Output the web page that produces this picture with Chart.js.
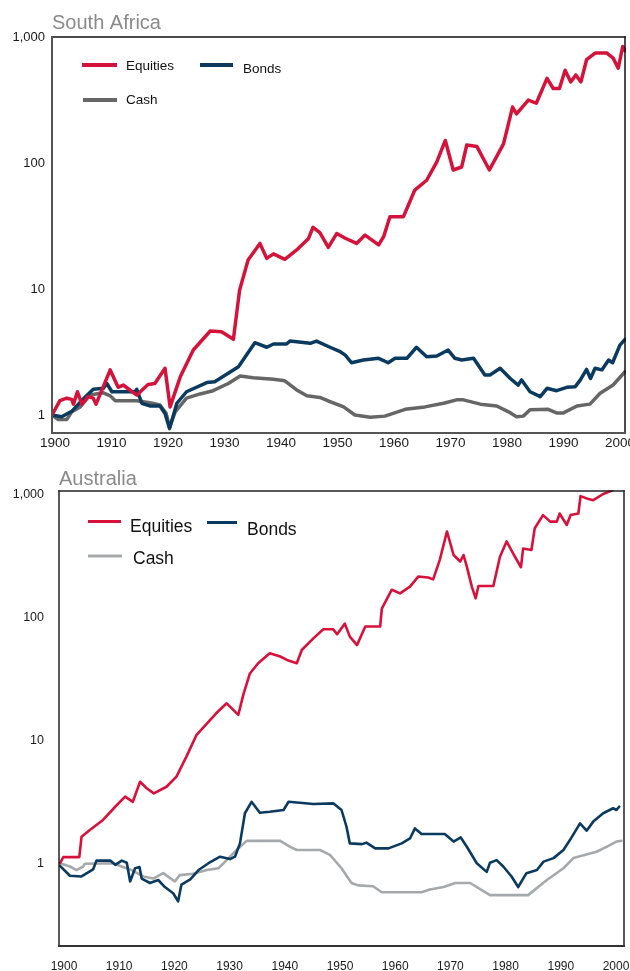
<!DOCTYPE html>
<html><head><meta charset="utf-8">
<script src="https://cdn.jsdelivr.net/npm/chart.js@4"></script>
<style>
html,body{margin:0;padding:0;background:#fff;}
#wrap{position:relative;width:630px;height:971px;overflow:hidden;background:#fff;}
.c{position:absolute;left:0;}
</style></head><body>
<div id="wrap">
<canvas id="sa" class="c" style="top:0" width="630" height="460"></canvas>
<canvas id="au" class="c" style="top:460px" width="630" height="511"></canvas>
</div>
<script>
// ---------- tick labels & series names ----------
const xTicks = [1900,1910,1920,1930,1940,1950,1960,1970,1980,1990,2000];
const yTicks = [1,10,100,1000];
const seriesNames = ['Equities','Bonds','Cash'];
const titles = ['South Africa','Australia'];

// ---------- South Africa ----------
const saEquitiesYears = [1900.0,1901.4,1902.6,1903.5,1903.8,1904.5,1905.3,1906.4,1907.3,1907.8,1910.3,1911.7,1912.6,1915.0,1917.0,1918.2,1920.0,1920.9,1922.7,1925.0,1928.0,1930.0,1932.1,1933.2,1934.7,1936.8,1938.0,1939.2,1941.2,1943.3,1945.4,1946.2,1947.4,1948.9,1950.4,1951.9,1953.9,1955.4,1957.8,1958.7,1959.8,1962.2,1964.2,1966.3,1968.1,1969.6,1971.0,1972.5,1973.4,1975.2,1977.4,1979.9,1981.5,1982.2,1984.3,1985.7,1987.6,1988.7,1989.8,1990.8,1991.8,1992.7,1993.6,1994.6,1996.1,1998.2,1999.3,2000.2,2001.0,2001.4];
const saEquitiesValues = [1.0,1.30,1.36,1.33,1.22,1.53,1.22,1.40,1.36,1.22,2.28,1.66,1.73,1.44,1.75,1.78,2.35,1.16,2.01,3.28,4.64,4.58,3.99,9.8,17.0,23.0,17.5,19.0,17.2,20.4,25.2,30.9,28.0,21.4,27.6,25.3,23.0,26.8,22.4,26.1,37.5,37.5,61,73,102,151,88,93,139,135,88,142,278,245,316,298,470,390,390,545,440,500,440,660,745,745,680,565,840,780];

const saBondsYears = [1900,1901.7,1903.5,1905.3,1907.3,1909.1,1909.7,1910.6,1914.7,1915.0,1915.9,1917.3,1919.1,1920.0,1920.8,1922.1,1923.8,1927.4,1928.8,1933.0,1935.9,1938.0,1939.2,1941.5,1942.1,1945.7,1946.8,1949.2,1951.0,1951.9,1953.0,1955.1,1957.8,1959.5,1960.7,1962.8,1964.5,1966.3,1968.1,1970.1,1971.3,1972.5,1974.6,1976.6,1977.5,1979.3,1981.1,1982.5,1983.1,1984.6,1986.4,1987.6,1989.3,1991.1,1992.6,1993.5,1994.6,1995.3,1996.1,1997.3,1998.5,1999.2,2000.5,2001.4];
const saBondsValues = [1.0,0.97,1.07,1.31,1.60,1.63,1.78,1.53,1.53,1.60,1.24,1.18,1.18,1.03,0.78,1.24,1.53,1.81,1.84,2.42,3.75,3.45,3.66,3.66,3.86,3.71,3.86,3.45,3.18,2.99,2.60,2.73,2.82,2.60,2.82,2.82,3.45,2.90,2.94,3.28,2.82,2.73,2.82,2.08,2.08,2.35,1.95,1.73,1.90,1.53,1.40,1.63,1.56,1.66,1.68,1.90,2.30,1.95,2.35,2.28,2.73,2.60,3.59,3.99];

const saCashYears = [1900,1901.1,1902.6,1903.5,1905.0,1906.7,1909.1,1910.3,1911.2,1915.0,1917.3,1919.1,1920.2,1920.8,1921.8,1923.8,1926.2,1928.5,1931.2,1933.3,1935.6,1939.2,1941.2,1943.3,1945.1,1947.4,1949.2,1951.6,1953.6,1956.3,1958.9,1962.5,1966.0,1969.3,1971.6,1972.8,1975.8,1978.7,1980.8,1982.2,1983.4,1984.6,1987.8,1989.3,1990.5,1992.9,1995.2,1997.0,1999.3,2001.4];
const saCashValues = [1.0,0.92,0.92,1.06,1.16,1.44,1.50,1.42,1.30,1.30,1.25,1.20,1.03,0.80,1.06,1.36,1.47,1.56,1.78,2.04,1.98,1.92,1.87,1.58,1.42,1.38,1.28,1.16,1.00,0.96,0.98,1.11,1.16,1.24,1.32,1.32,1.22,1.18,1.06,0.97,0.98,1.10,1.11,1.04,1.04,1.18,1.22,1.49,1.73,2.21];

// ---------- Australia ----------
const auEquitiesYears = [1900.0,1900.6,1903.5,1903.9,1905.4,1907.8,1910.0,1911.8,1913.2,1914.5,1915.7,1917.0,1919.3,1921.1,1922.9,1924.7,1928.3,1930.2,1932.3,1933.2,1934.4,1935.9,1938.0,1939.9,1941.1,1942.9,1943.8,1945.9,1947.7,1949.5,1950.2,1951.6,1952.5,1953.8,1955.3,1958.0,1958.3,1960.1,1961.6,1963.4,1964.9,1966.7,1967.6,1968.8,1970.1,1971.3,1972.5,1973.1,1973.7,1974.6,1975.3,1975.8,1978.5,1979.7,1980.9,1982.1,1983.5,1983.9,1985.4,1986.0,1987.5,1988.8,1990.0,1990.5,1991.8,1992.5,1993.9,1994.3,1995.4,1996.6,1998.4,1999.9,2001.0];
const auEquitiesValues = [1.0,1.12,1.12,1.64,1.86,2.25,2.88,3.48,3.16,4.60,4.07,3.70,4.19,5.06,7.37,11.0,16.6,20.0,16.1,23.4,35.0,42.4,51.1,48.1,45.1,42.4,54.3,67.5,80.0,80.0,73,89,69.8,59.5,84.3,84.3,118,168,157,178,215,211,204,294,500,322,285,322,259,178,143,180,180,312,415,331,256,364,354,532,680,602,602,700,565,680,700,970,930,900,1010,1070,1200];

const auBondsYears = [1900,1901.8,1903.9,1906.0,1906.6,1909.1,1910.0,1911.2,1912.1,1912.7,1913.6,1914.4,1914.8,1916.3,1917.8,1919.0,1920.5,1921.4,1922.0,1923.6,1925.1,1926.9,1929.0,1930.8,1931.7,1932.6,1933.5,1934.7,1936.2,1938.0,1940.5,1941.4,1945.9,1949.5,1951.0,1951.9,1952.5,1954.7,1955.5,1957.1,1959.5,1961.9,1963.4,1964.3,1965.5,1969.7,1971.3,1972.6,1973.7,1975.5,1977.3,1977.9,1979.1,1980.3,1981.8,1983.0,1984.5,1986.4,1987.6,1989.4,1991.2,1992.4,1994.2,1995.4,1996.6,1998.4,2000.2,2000.8,2001.3];
const auBondsValues = [0.95,0.79,0.78,0.89,1.05,1.05,0.97,1.05,1.01,0.71,0.91,0.93,0.75,0.69,0.73,0.64,0.57,0.49,0.67,0.74,0.88,1.00,1.13,1.08,1.13,1.45,2.55,3.16,2.57,2.62,2.71,3.16,3.03,3.07,2.71,1.98,1.45,1.43,1.47,1.32,1.32,1.45,1.59,1.92,1.73,1.73,1.50,1.62,1.36,1.00,0.85,1.01,1.06,0.94,0.78,0.64,0.83,0.88,1.03,1.10,1.28,1.55,2.11,1.84,2.18,2.55,2.80,2.71,2.88];

const auCashYears = [1900,1901.8,1903.0,1904.2,1904.5,1909.7,1910.9,1912.7,1915.1,1916.9,1918.7,1920.8,1921.7,1924.1,1926.6,1928.7,1930.2,1932.0,1933.8,1939.9,1941.7,1942.9,1947.1,1948.9,1951.0,1952.8,1954.0,1956.7,1958.3,1965.5,1967.0,1969.5,1971.6,1974.3,1977.9,1984.8,1988.2,1991.2,1993.0,1997.2,1999.0,2000.8,2001.7];
const auCashValues = [1.0,0.94,0.88,0.94,0.99,1.0,0.95,0.89,0.78,0.75,0.83,0.71,0.80,0.82,0.88,0.91,1.06,1.28,1.52,1.52,1.36,1.28,1.28,1.17,0.91,0.69,0.66,0.65,0.58,0.58,0.61,0.64,0.69,0.69,0.55,0.55,0.73,0.91,1.10,1.24,1.36,1.50,1.52];

// ---------- helpers ----------
const FONT = "'Liberation Sans', Arial, Helvetica, sans-serif";
const pts = (xs, ys) => xs.map((x, i) => ({x: x, y: ys[i]}));

const framePlugin = {
  id: 'frame',
  afterDatasetsDraw(chart, args, o) {
    const ctx = chart.ctx, a = chart.chartArea;
    const seg = (x1, y1, x2, y2, c, w) => {
      ctx.beginPath(); ctx.strokeStyle = c; ctx.lineWidth = w;
      ctx.moveTo(x1, y1); ctx.lineTo(x2, y2); ctx.stroke();
    };
    ctx.save();
    ctx.lineCap = 'square';
    seg(a.left, a.top, a.right, a.top, o.boxColor, o.boxWidth);
    seg(a.right, a.top, a.right, a.bottom, o.boxColor, o.boxWidth);
    seg(a.left, a.top, a.left, a.bottom, o.leftColor, o.leftWidth);
    seg(a.left, a.bottom, a.right, a.bottom, o.axisColor, o.axisWidth);
    ctx.restore();
  }
};

const legendPlugin = {
  id: 'insideLegend',
  afterDraw(chart, args, o) {
    const ctx = chart.ctx;
    ctx.save();
    chart.data.datasets.forEach((ds, i) => {
      const it = o.items[i];
      ctx.beginPath();
      ctx.strokeStyle = ds.borderColor; ctx.lineWidth = o.lineWidth; ctx.lineCap = 'butt';
      ctx.moveTo(it.x1, it.ly); ctx.lineTo(it.x2, it.ly); ctx.stroke();
      ctx.fillStyle = o.color; ctx.font = o.font;
      ctx.textBaseline = 'middle'; ctx.textAlign = 'left';
      ctx.fillText(ds.label, it.tx, it.ty);
    });
    ctx.restore();
  }
};

function makeChart(id, title, series, colors, g) {
  const datasets = series.map((s, i) => ({
    label: seriesNames[i],
    data: pts(s[0], s[1]),
    borderColor: colors[i],
    backgroundColor: colors[i],
    borderWidth: g.lineWidth,
    pointRadius: 0,
    tension: 0,
    fill: false,
    borderJoinStyle: 'round',
    borderCapStyle: 'round',
    clip: 1
  })).reverse();
  // draw order: cash at back, equities on top; legend keeps original order
  const ordered = datasets.slice().reverse();
  ordered.forEach((d, i) => { d.order = i; });
  return new Chart(document.getElementById(id), {
    type: 'line',
    data: { datasets: ordered },
    plugins: [framePlugin, legendPlugin],
    options: {
      responsive: false,
      animation: false,
      events: [],
      layout: { padding: { left: 0, right: 630 - g.right, top: 0, bottom: 0 } },
      scales: {
        x: {
          type: 'linear', bounds: 'data', min: g.xMin, max: g.xMax,
          grid: { display: false, drawTicks: false },
          border: { display: false },
          afterBuildTicks: (s) => { s.ticks = xTicks.map(v => ({ value: v })); },
          afterFit: (s) => { s.height = g.canvasH - g.bottom; s.paddingLeft = 0; s.paddingRight = 0; },
          ticks: {
            autoSkip: false, maxRotation: 0, padding: g.xPad, labelOffset: g.xLabelOffset,
            color: '#1a1a1a', font: { family: FONT, size: g.xFont },
            callback: (v) => String(v)
          }
        },
        y: {
          type: 'logarithmic', bounds: 'data', min: g.yMin, max: g.yMax,
          grid: { display: false, drawTicks: false },
          border: { display: false },
          afterBuildTicks: (s) => { s.ticks = yTicks.map(v => ({ value: v })); },
          afterFit: (s) => { s.width = g.left; s.paddingTop = 0; s.paddingBottom = 0; },
          ticks: {
            autoSkip: false, padding: g.yPad,
            color: '#1a1a1a', font: { family: FONT, size: g.yFont },
            callback: (v) => Number(v).toLocaleString('en-US')
          }
        }
      },
      plugins: {
        legend: { display: false },
        tooltip: { enabled: false },
        title: {
          display: true, text: title, align: 'start', fullSize: false,
          color: '#8a8a8a', font: { family: FONT, size: 20, weight: 'normal', lineHeight: 1.2 },
          padding: { top: g.titleTop, bottom: g.titleBottom }
        },
        frame: g.frame,
        insideLegend: g.legend
      }
    }
  });
}

makeChart('sa', titles[0],
  [[saEquitiesYears, saEquitiesValues], [saBondsYears, saBondsValues], [saCashYears, saCashValues]],
  ['#d5133a', '#0b3a60', '#666666'],
  {
    canvasH: 460, left: 52, right: 625, bottom: 433,
    xMin: 1900, xMax: 2001.4, yMin: 0.72, yMax: 1000,
    lineWidth: 3.5, xPad: 2, xLabelOffset: 3, xFont: 13.5, yPad: 7, yFont: 13,
    titleTop: 11, titleBottom: 2,
    frame: { boxColor: '#111111', boxWidth: 1.5, leftColor: '#555555', leftWidth: 2, axisColor: '#555555', axisWidth: 2 },
    legend: {
      lineWidth: 4, color: '#111111', font: "13.5px " + FONT,
      items: [
        { x1: 82, x2: 117, ly: 65, tx: 126, ty: 66.5 },
        { x1: 200, x2: 233, ly: 65, tx: 243, ty: 69 },
        { x1: 83, x2: 117, ly: 100, tx: 126, ty: 100.5 }
      ]
    }
  });

makeChart('au', titles[1],
  [[auEquitiesYears, auEquitiesValues], [auBondsYears, auBondsValues], [auCashYears, auCashValues]],
  ['#d9113a', '#0b3a60', '#a6a9ac'],
  {
    canvasH: 511, left: 59, right: 624, bottom: 486,
    xMin: 1899.82, xMax: 2002.17, yMin: 0.212, yMax: 1068,
    lineWidth: 2.6, xPad: 13, xLabelOffset: 4, xFont: 12, yPad: 15, yFont: 12.5,
    titleTop: 7, titleBottom: 0,
    frame: { boxColor: '#222222', boxWidth: 1.5, leftColor: '#222222', leftWidth: 1.5, axisColor: '#333333', axisWidth: 2 },
    legend: {
      lineWidth: 3, color: '#111111', font: "17.5px " + FONT,
      items: [
        { x1: 88, x2: 121, ly: 61.5, tx: 130, ty: 67 },
        { x1: 207, x2: 237, ly: 62.5, tx: 247, ty: 70 },
        { x1: 88, x2: 122, ly: 96, tx: 133, ty: 99.5 }
      ]
    }
  });
</script>
</body></html>
